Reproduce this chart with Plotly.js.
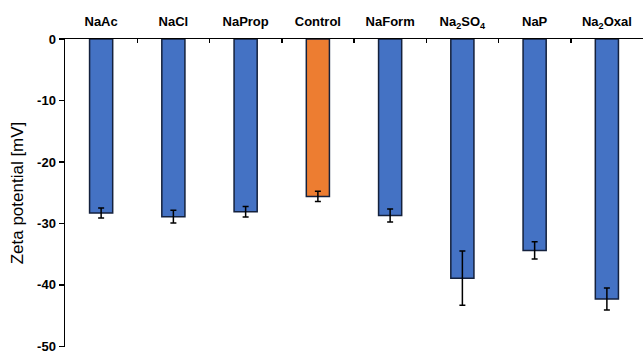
<!DOCTYPE html>
<html><head><meta charset="utf-8">
<script src="https://cdn.plot.ly/plotly-3.0.1.min.js"></script>
<style>html,body{margin:0;padding:0;background:#fff}</style>
</head><body><div id="chart" style="width:644px;height:353px"></div>
<script>
const categories = ["NaAc","NaCl","NaProp","Control","NaForm","Na<sub>2</sub>SO<sub>4</sub>","NaP","Na<sub>2</sub>Oxal"];
const zeta = [-28.3, -28.9, -28.1, -25.6, -28.7, -38.9, -34.4, -42.3];
const errors = [0.8, 1.05, 0.85, 0.85, 1.05, 4.4, 1.4, 1.8];
const barColors = ["#4472C4","#4472C4","#4472C4","#ED7D31","#4472C4","#4472C4","#4472C4","#4472C4"];
const yTickVals = [0, -10, -20, -30, -40, -50];
const yTickText = ["0", "-10", "-20", "-30", "-40", "-50"];

const trace = {
  type: 'bar', x: categories, y: zeta,
  width: 0.32,
  marker: {color: barColors, line: {color: '#14213d', width: 1.5}},
  error_y: {type: 'data', array: errors, visible: true, color: '#000', thickness: 1.5, width: 3}
};
const layout = {
  width: 644, height: 353,
  margin: {l: 65, r: 1, t: 39, b: 6},
  paper_bgcolor: '#fff', plot_bgcolor: '#fff',
  showlegend: false,
  font: {family: 'Arial, "Liberation Sans", sans-serif', color: '#000'},
  xaxis: {
    side: 'top', type: 'category', showline: true, linecolor: '#000', linewidth: 1.5,
    ticks: 'inside', tickson: 'boundaries', ticklen: 4, tickwidth: 1.5, tickcolor: '#000',
    tickfont: {size: 13, family: 'Arial, "Liberation Sans", sans-serif', weight: 'bold'},
    ticklabelstandoff: 6,
    showgrid: false, zeroline: false, range: [-0.5, 7.5], fixedrange: true
  },
  yaxis: {
    range: [-50.1, 0], tickmode: 'array', tickvals: yTickVals, ticktext: yTickText,
    showline: true, linecolor: '#000', linewidth: 1.5,
    ticks: 'outside', ticklen: 5, tickwidth: 1.5, tickcolor: '#000',
    tickfont: {size: 13, weight: 'bold'}, ticklabeloverflow: 'allow',
    showgrid: false, zeroline: false,
    title: {text: 'Zeta potential [mV]', font: {size: 17}, standoff: 9}
  }
};
Plotly.newPlot('chart', [trace], layout, {displayModeBar: false, staticPlot: true});
</script></body></html>
